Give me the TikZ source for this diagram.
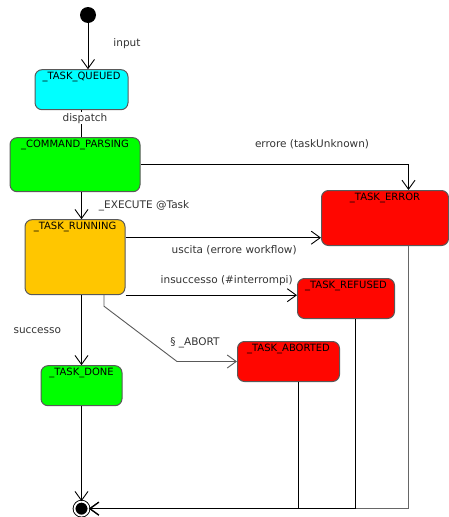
\documentclass[tikz,border=0pt]{standalone}
\usepackage{fontspec}
\setmainfont{DejaVu Sans}
\usepackage{xcolor}
\usetikzlibrary{arrows.meta, positioning}

\definecolor{runorange}{RGB}{255,198,0}
\definecolor{boxgreen}{RGB}{0,255,0}
\definecolor{boxcyan}{RGB}{0,255,255}
\definecolor{boxred}{RGB}{255,6,0}

\begin{document}
\begin{tikzpicture}[
    x=1pt, y=-1pt,
    node distance=27pt,
    state/.style 2 args={
        rectangle,
        draw=black!65,
        line width=1pt,
        rounded corners=7pt,
        minimum width=#1,
        text height=8pt,
        text depth=#2,
        inner sep=2pt,
        anchor=north,
        font=\fontsize{10}{12}\selectfont
    },
    initial/.style={
        circle,
        fill=black,
        minimum size=16pt,
        inner sep=0pt
    },
    final/.style={
        circle,
        draw=black,
        line width=0.9pt,
        double=white,
        double distance=1.8pt,
        fill=black,
        minimum size=14pt,
        inner sep=0pt
    },
    lbl/.style={
        font=\fontsize{10.5}{12}\selectfont,
        text=black!80,
        inner sep=1pt
    },
    arr/.style={
        -{Straight Barb[length=9pt,width=13pt]},
        line width=0.9pt
    }
]
\useasboundingbox (0,0) rectangle (449,517);

\node[initial] (start) at (88,15) {};
\node[state={93pt}{28pt}, fill=boxcyan, below=46pt of start, xshift=-6.5pt] (queued) {\_TASK\_QUEUED};
\node[state={130pt}{42pt}, fill=boxgreen, below=of queued, xshift=-6.5pt] (parsing) {\_COMMAND\_PARSING};
\node[state={100pt}{63pt}, fill=runorange, below=of parsing] (running) {\_TASK\_RUNNING};
\node[state={81pt}{28pt}, fill=boxgreen, below=70pt of running, xshift=6.5pt] (done) {\_TASK\_DONE};
\node[final, below=95pt of done] (end) {};

\node[state={127pt}{43pt}, fill=boxred, anchor=north west] (error) at (321,190) {\_TASK\_ERROR};
\node[state={97pt}{28pt}, fill=boxred, anchor=north west] (refused) at (297,278) {\_TASK\_REFUSED};
\node[state={102pt}{28pt}, fill=boxred, anchor=north west] (aborted) at (237,341) {\_TASK\_ABORTED};

\draw[arr] (start) -- node[lbl, pos=0.45, right=24pt] {input} (start |- queued.north);
\draw[line width=0.9pt] (queued.south) -- node[lbl, fill=white, pos=0.3, xshift=3.5pt] {dispatch} (queued.south |- parsing.north);
\draw[arr] (queued.south |- parsing.south) -- node[lbl, right=16pt] {\_EXECUTE @Task} (queued.south |- running.north);
\draw[arr] (parsing.east) -| node[lbl, pos=0.32, above=14pt] {errore (taskUnknown)} ([xshift=23.5pt]error.north);
\draw[arr] ([yshift=19.5pt]running.east) -- node[lbl, pos=0.556, below=6pt] {uscita (errore workflow)} ([yshift=19.5pt]running.east -| error.west);
\draw[arr] (running.south east) -- node[lbl, pos=0.59, above=8pt] {insuccesso (\#interrompi)} (running.south east -| refused.west);
\draw[arr, black!65] ([xshift=29pt]running.south) -- ++(0,11)
    -- ([xshift=-60pt]aborted.west) node[lbl, above=12pt, xshift=18pt] {§ \_ABORT}
    -- (aborted.west);
\draw[arr] (queued.south |- running.south) -- node[lbl, left=19pt] {successo} (queued.south |- done.north);
\draw[arr] (done.south) -- (end.north);

% uscite verso lo stato finale
\draw[arr, black!60, line width=1.3pt] ([xshift=23.5pt]error.south) |- (end);
\draw[arr] ([xshift=9.5pt]refused.south) |- (end);
\draw[arr] ([xshift=10pt]aborted.south) |- (end);

\end{tikzpicture}
\end{document}
